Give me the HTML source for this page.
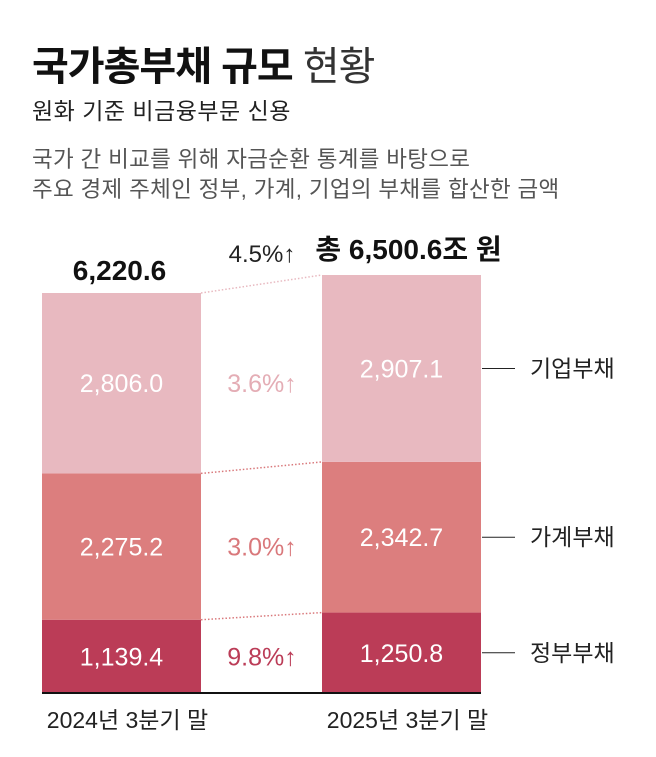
<!DOCTYPE html>
<html><head><meta charset="utf-8"><style>
body{margin:0;width:656px;height:757px;background:#fff;overflow:hidden;font-family:"Liberation Sans","Noto Sans CJK KR",sans-serif;}
.t{position:absolute;white-space:nowrap;}
</style></head><body>
<div class="t" style="left:32px;top:34px;font-size:40px;color:#111;letter-spacing:-1px"><b>국가총부채 규모</b> <span style="font-weight:400;color:#333">현황</span></div>
<div class="t" style="left:32px;top:92px;font-size:23px;letter-spacing:0.5px;color:#222">원화 기준 비금융부문 신용</div>
<div class="t" style="left:32px;top:145px;font-size:22.5px;letter-spacing:0.3px;line-height:30px;color:#555">국가 간 비교를 위해 자금순환 통계를 바탕으로<br>주요 경제 주체인 정부, 가계, 기업의 부채를 합산한 금액</div>
<svg id="c" width="656" height="757" style="position:absolute;left:0;top:0"></svg>
<script>
const periods=["2024년 3분기 말","2025년 3분기 말"];
const series=["정부부채","가계부채","기업부채"];
const gov=[1139.4,1250.8];
const household=[2275.2,2342.7];
const corp=[2806.0,2907.1];
const totals=["6,220.6","총 6,500.6조 원"];
const growth=["9.8%↑","3.0%↑","3.6%↑"];
const totalGrowth="4.5%↑";
const colors=["#bb3c57","#dc7e7e","#e8b9c0"];
const pctColors=["#bb3c57","#d9787b","#e4adb5"];
const NS="http://www.w3.org/2000/svg",svg=document.getElementById('c');
const base=693,k=400/6220.6,xs=[42,322],bw=159;
const y=v=>base-v*k;
function mk(t,a,txt){const e=document.createElementNS(NS,t);for(const n in a)e.setAttribute(n,a[n]);if(txt!==undefined)e.textContent=txt;svg.appendChild(e);return e;}
const fmt=v=>v.toLocaleString('en-US',{minimumFractionDigits:1,maximumFractionDigits:1});
const data=[gov,household,corp];
const tops=[[],[]];
for(let p=0;p<2;p++){let acc=0;
 for(let s=0;s<3;s++){const v=data[s][p];const y0=y(acc),y1=y(acc+v);
  const r=mk('rect',{x:xs[p],y:y1,width:bw,height:y0-y1,fill:colors[s]});
  
  
  const t=mk('text',{x:xs[p]+bw/2,y:(y0+y1)/2+9,'text-anchor':'middle','font-size':25,fill:'#fff'},fmt(v));
  
  
  acc+=v;tops[p].push(y1);}
}
for(let s=0;s<3;s++){
 const l=mk('line',{x1:xs[0]+bw,y1:tops[0][s],x2:xs[1],y2:tops[1][s],stroke:s==2?'#e8b9c0':'#d9787b','stroke-width':1.5,'stroke-dasharray':'1.5 2'});
 
 
 const yb=s==0?base:tops[0][s-1];
 const t=mk('text',{x:262,y:(yb+tops[0][s])/2+9,'text-anchor':'middle','font-size':25,fill:pctColors[s]},growth[s]);
 
 
 let acc=0;for(let i=0;i<s;i++)acc+=data[i][1];const my=y(acc+data[s][1]/2);
 const ll=mk('line',{x1:482,y1:my,x2:515,y2:my,stroke:'#222','stroke-width':1});
 
 
 const lt=mk('text',{x:530,y:my+8,'font-size':23,fill:'#222'},series[s]);
 
 
}
const ax=mk('line',{x1:42,y1:base,x2:481,y2:base,stroke:'#111','stroke-width':2});


for(let p=0;p<2;p++){
 const t=mk('text',{x:xs[p]+bw/2+6,y:728,'text-anchor':'middle','font-size':23,fill:'#222'},periods[p]);
 
 
}
const t1=mk('text',{x:xs[0]+bw/2-2,y:y(6220.6)-13,'text-anchor':'middle','font-size':28,'font-weight':'bold',fill:'#111'},totals[0]);


const t2=mk('text',{x:xs[1]+bw/2+7,y:259,'text-anchor':'middle','font-size':28,'font-weight':'bold',fill:'#111'},totals[1]);


const t3=mk('text',{x:262,y:262,'text-anchor':'middle','font-size':24,fill:'#222'},totalGrowth);


</script>
</body></html>
